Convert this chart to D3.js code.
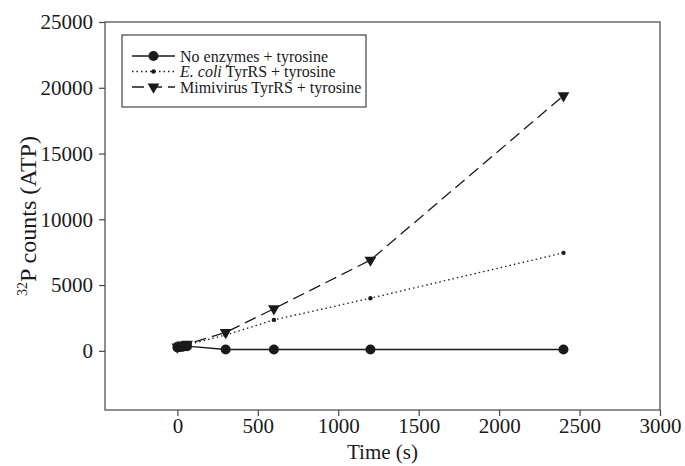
<!DOCTYPE html>
<html>
<head>
<meta charset="utf-8">
<script src="https://cdn.jsdelivr.net/npm/d3@7"></script>
<style>
  body { margin: 0; background: #fff; }
  svg { font-family: "Liberation Serif", "Times New Roman", serif; }
</style>
</head>
<body>
<div id="chart"></div>
<script>
const times = [0, 15, 30, 60, 300, 600, 1200, 2400]
const noEnzymes = [250, 300, 300, 350, 100, 100, 100, 100]
const ecoliTyrRS = [300, 350, 400, 450, 1200, 2350, 4000, 7450]
const mimiTyrRS = [300, 400, 450, 500, 1400, 3200, 6900, 19400]
const xTicks = [0, 500, 1000, 1500, 2000, 2500, 3000]
const yTicks = [0, 5000, 10000, 15000, 20000, 25000]

const width = 685, height = 466
const margin = {left: 105, right: 25, top: 22, bottom: 56}
const ink = "#1a1a1a"

const series = [
  {label: "No enzymes + tyrosine", values: noEnzymes, dash: null, marker: "circle"},
  {label: "E. coli TyrRS + tyrosine", values: ecoliTyrRS, dash: "1.5,3", marker: "dot"},
  {label: "Mimivirus TyrRS + tyrosine", values: mimiTyrRS, dash: "12,6", marker: "triangle"}
]

const x = d3.scaleLinear().domain([-450, 3000]).range([margin.left, width - margin.right])
const y = d3.scaleLinear().domain([-4500, 25000]).range([height - margin.bottom, margin.top])

const svg = d3.select("#chart").append("svg")
  .attr("width", width)
  .attr("height", height)

// frame
svg.append("rect")
  .attr("x", x.range()[0]).attr("y", y.range()[1])
  .attr("width", x.range()[1] - x.range()[0])
  .attr("height", y.range()[0] - y.range()[1])
  .attr("fill", "none").attr("stroke", "#444").attr("stroke-width", 1.2)

const gx = svg.append("g")
  .attr("transform", `translate(0,${y.range()[0]})`)
  .call(d3.axisBottom(x).tickValues(xTicks).tickSize(6).tickSizeOuter(0).tickFormat(d3.format("d")))
gx.select(".domain").remove()

const gy = svg.append("g")
  .attr("transform", `translate(${x.range()[0]},0)`)
  .call(d3.axisLeft(y).tickValues(yTicks).tickSize(6).tickSizeOuter(0).tickFormat(d3.format("d")))
gy.select(".domain").remove()

svg.selectAll(".tick line").attr("stroke", "#444").attr("stroke-width", 1.2)
svg.selectAll(".tick text")
  .attr("font-family", "Liberation Serif, serif")
  .attr("font-size", 21)
  .attr("fill", ink)
gx.selectAll(".tick text").attr("dy", "0.68em")
gy.selectAll(".tick text").attr("x", -12)

// axis titles
svg.append("text")
  .attr("x", (x.range()[0] + x.range()[1]) / 2)
  .attr("y", 459)
  .attr("text-anchor", "middle")
  .attr("font-size", 21)
  .attr("fill", ink)
  .text("Time (s)")

const yl = svg.append("text")
  .attr("transform", `translate(36,${(y.range()[0] + y.range()[1]) / 2}) rotate(-90)`)
  .attr("text-anchor", "middle")
  .attr("font-size", 24)
  .attr("fill", ink)
yl.append("tspan").attr("font-size", 14).attr("dy", -9).text("32")
yl.append("tspan").attr("dy", 9).text("P counts (ATP)")

const drawMarker = (sel, type) => {
  if (type === "circle") {
    sel.append("circle").attr("r", 5).attr("fill", ink)
  } else if (type === "dot") {
    sel.append("circle").attr("r", 2.2).attr("fill", ink)
  } else {
    sel.append("path")
      .attr("d", d3.symbol().type(d3.symbolTriangle).size(60))
      .attr("transform", "rotate(180)")
      .attr("fill", ink)
  }
}

const line = d3.line()
  .x((d, i) => x(times[i]))
  .y(d => y(d))

series.forEach(s => {
  svg.append("path")
    .datum(s.values)
    .attr("d", line)
    .attr("fill", "none")
    .attr("stroke", ink)
    .attr("stroke-width", 1.3)
    .attr("stroke-dasharray", s.dash)
  svg.append("g").selectAll("g")
    .data(s.values)
    .enter().append("g")
      .attr("transform", (d, i) => `translate(${x(times[i])},${y(d)})`)
      .each(function() { drawMarker(d3.select(this), s.marker) })
})

// legend
const legend = svg.append("g")
legend.append("rect")
  .attr("x", 122).attr("y", 35)
  .attr("width", 244).attr("height", 72)
  .attr("fill", "#fff").attr("stroke", "#444").attr("stroke-width", 1.2)

series.forEach((s, i) => {
  const row = legend.append("g").attr("transform", `translate(0,${56 + i * 15.5})`)
  row.append("line")
    .attr("x1", 132).attr("x2", 175)
    .attr("stroke", ink).attr("stroke-width", 1.3)
    .attr("stroke-dasharray", s.dash)
  drawMarker(row.append("g").attr("transform", "translate(153.5,0)"), s.marker)
  const t = row.append("text")
    .attr("x", 180).attr("dy", "0.35em")
    .attr("font-size", 16)
    .attr("fill", ink)
  if (i === 1) {
    t.append("tspan").attr("font-style", "italic").text("E. coli")
    t.append("tspan").text(" TyrRS + tyrosine")
  } else {
    t.text(s.label)
  }
})
</script>
</body>
</html>
